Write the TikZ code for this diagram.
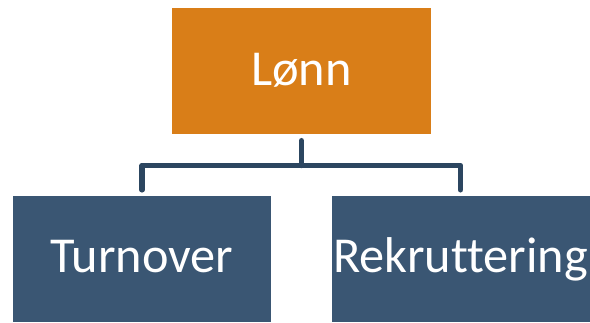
\documentclass[tikz,border=0pt]{standalone}
\usepackage{fontspec}
\setmainfont{Carlito}[RawFeature={-liga,-clig,-dlig}]
\definecolor{topfill}{HTML}{D97E18}
\definecolor{boxfill}{HTML}{3A5673}
\definecolor{linkcol}{HTML}{2C4660}
\begin{document}
\begin{tikzpicture}[x=1pt,y=-1pt,
  orgbox/.style={rectangle,inner sep=0pt,text=white,text height=36pt,text depth=8.8pt,
    font=\fontsize{50.3}{56}\selectfont},
  link/.style={draw=linkcol,line width=5.5pt,line cap=round,line join=round}]
\useasboundingbox (0,0) rectangle (590,323);
\node[orgbox,fill=topfill,minimum width=259pt,minimum height=126pt] (top) at (301.5,71.5) {Lønn};
\node[orgbox,fill=boxfill,minimum width=258pt,minimum height=126pt] (left) at (142,259) {Turnover};
\node[orgbox,fill=boxfill,minimum width=258pt,minimum height=126pt] (right) at (460.5,259) {Rekruttering};
% elbow connector from the top box to both boxes below
\coordinate (mid) at (301.5,165.5);
\draw[link] ([yshift=-6pt]top.south) -- (mid);
\draw[link] ([yshift=6pt]left.north) -- (left.north |- mid) -- (right.north |- mid) -- ([yshift=6pt]right.north);
\end{tikzpicture}
\end{document}
